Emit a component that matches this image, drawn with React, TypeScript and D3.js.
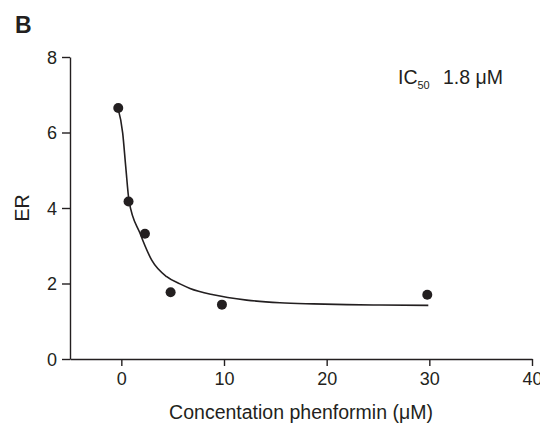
import React, { useRef, useEffect } from 'react';
import * as d3 from 'd3';

// measured points (x = phenformin uM, y = ER)
const doseValues = [-0.3, 0.7, 2.3, 4.8, 9.8, 29.8];
const erValues = [6.65, 4.17, 3.32, 1.77, 1.44, 1.7];

// fitted curve
const curveX = [-0.32, 0.13, 0.43, 0.75, 1.82, 2.96, 4.42, 5.71, 6.69, 8.96, 12.21, 15.45, 18.7, 21.95, 25.19, 29.9];
const curveY = [6.64, 5.99, 5.09, 4.19, 3.33, 2.62, 2.18, 1.99, 1.87, 1.7, 1.56, 1.49, 1.46, 1.44, 1.43, 1.42];

const xTicks = [0, 10, 20, 30, 40];
const yTicks = [0, 2, 4, 6, 8];

const font = 'Arial, "Liberation Sans", Helvetica, sans-serif';
const ink = '#231f20';

const App = () => {
  const svgRef = useRef<SVGSVGElement>(null);
  const width = 540;
  const height = 424;

  useEffect(() => {
    const svg = d3.select(svgRef.current);
    svg.selectAll('*').remove();

    const x = d3.scaleLinear().domain([-5, 40]).range([70, 532]);
    const y = d3.scaleLinear().domain([0, 8]).range([359, 57]);

    // x axis
    const xAxis = svg.append('g')
      .attr('transform', `translate(0, ${y(0)})`)
      .call(d3.axisBottom(x).tickValues(xTicks).tickSize(7).tickSizeOuter(0).tickPadding(6));
    // y axis
    const yAxis = svg.append('g')
      .attr('transform', `translate(${x(-5)}, 0)`)
      .call(d3.axisLeft(y).tickValues(yTicks).tickSize(8).tickSizeOuter(0).tickPadding(5));

    [xAxis, yAxis].forEach(ax => {
      ax.select('.domain').attr('stroke', ink).attr('stroke-width', 1.4);
      ax.selectAll('.tick line').attr('stroke', ink).attr('stroke-width', 1.4);
      ax.selectAll('.tick text')
        .attr('fill', ink)
        .style('font-family', font)
        .style('font-size', '18px');
    });
    yAxis.selectAll('.tick text').attr('dy', '0.35em');

    // fitted curve
    const line = d3.line<number>()
      .x((d, i) => x(curveX[i]))
      .y(d => y(d))
      .curve(d3.curveMonotoneX);

    svg.append('path')
      .datum(curveY)
      .attr('d', line)
      .attr('fill', 'none')
      .attr('stroke', ink)
      .attr('stroke-width', 1.6);

    // data points
    svg.append('g')
      .selectAll('circle')
      .data(erValues)
      .join('circle')
      .attr('cx', (d, i) => x(doseValues[i]))
      .attr('cy', d => y(d))
      .attr('r', 5)
      .attr('fill', ink);

    // axis titles
    svg.append('text')
      .attr('x', (x(-5) + x(40)) / 2)
      .attr('y', 419)
      .attr('text-anchor', 'middle')
      .attr('fill', ink)
      .style('font-family', font)
      .style('font-size', '19.5px')
      .text('Concentation phenformin (\u03bcM)');

    svg.append('text')
      .attr('transform', `translate(29, ${(y(0) + y(8)) / 2}) rotate(-90)`)
      .attr('text-anchor', 'middle')
      .attr('fill', ink)
      .style('font-family', font)
      .style('font-size', '19.5px')
      .text('ER');

    // panel letter
    svg.append('text')
      .attr('x', 15)
      .attr('y', 33)
      .attr('fill', ink)
      .style('font-family', font)
      .style('font-size', '23px')
      .style('font-weight', 'bold')
      .text('B');

    // IC50 annotation
    const ic = svg.append('text')
      .attr('x', 398)
      .attr('y', 84)
      .attr('fill', ink)
      .style('font-family', font)
      .style('font-size', '19.5px');
    ic.append('tspan').text('IC');
    ic.append('tspan').attr('dy', 5).style('font-size', '11px').text('50');
    ic.append('tspan').attr('x', 443).attr('dy', -5).text('1.8 \u03bcM');
  }, []);

  return (
    <svg
      ref={svgRef}
      width={width}
      height={height}
      style={{ position: 'absolute', left: 0, top: 0, display: 'block', background: '#fff' }}
    />
  );
};

export default App;
